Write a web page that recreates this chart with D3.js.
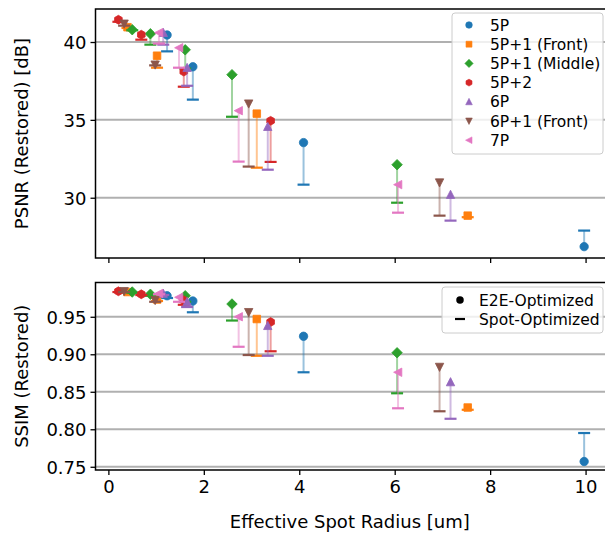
<!DOCTYPE html>
<html>
<head>
<meta charset="utf-8">
<script src="https://cdn.jsdelivr.net/npm/d3@7/dist/d3.min.js"></script>
<style>
  html, body { margin: 0; padding: 0; background: #fff; }
  svg { display: block; }
</style>
</head>
<body>
<div id="chart"></div>
<script>
(function () {
  "use strict";

  // ── data ──────────────────────────────────────────────────
  var SERIES = ["5P", "5P+1 (Front)", "5P+1 (Middle)", "5P+2", "6P", "6P+1 (Front)", "7P"];
  var RADIUS = [
    [1.23, 1.77, 4.09, 9.97],
    [0.40, 1.02, 3.11, 7.53],
    [0.50, 0.88, 1.61, 2.59, 6.05],
    [0.21, 0.69, 1.58, 3.40],
    [1.15, 1.65, 3.34, 7.17],
    [0.33, 0.98, 2.94, 6.94],
    [1.06, 1.48, 2.73, 6.07]
  ];
  var PSNR_E2E = [
    [40.45, 38.41, 33.54, 26.86],
    [40.95, 39.12, 35.40, 28.85],
    [40.79, 40.53, 39.50, 37.90, 32.12],
    [41.43, 40.47, 38.10, 34.94],
    [40.60, 38.35, 34.56, 30.20],
    [41.17, 38.54, 36.04, 30.97],
    [40.60, 39.63, 35.59, 30.84]
  ];
  var PSNR_SPOT = [
    [39.40, 36.30, 30.84, 27.89],
    [40.90, 38.35, 31.93, 28.75],
    [40.75, 39.83, 38.30, 35.20, 29.68],
    [41.30, 40.15, 37.13, 32.30],
    [39.83, 37.19, 31.80, 28.53],
    [41.05, 38.50, 32.00, 28.85],
    [39.90, 38.35, 32.32, 29.04]
  ];
  var SSIM_E2E = [
    [0.978, 0.971, 0.924, 0.757],
    [0.983, 0.973, 0.947, 0.829],
    [0.983, 0.980, 0.978, 0.967, 0.902],
    [0.984, 0.980, 0.972, 0.943],
    [0.981, 0.970, 0.938, 0.863],
    [0.984, 0.972, 0.956, 0.883],
    [0.981, 0.976, 0.950, 0.876]
  ];
  var SSIM_SPOT = [
    [0.975, 0.956, 0.876, 0.795],
    [0.982, 0.971, 0.898, 0.826],
    [0.982, 0.978, 0.970, 0.945, 0.848],
    [0.983, 0.979, 0.966, 0.904],
    [0.979, 0.963, 0.898, 0.814],
    [0.983, 0.970, 0.899, 0.824],
    [0.980, 0.970, 0.910, 0.828]
  ];
  var X_TICKS = [0, 2, 4, 6, 8, 10];
  var PSNR_TICKS = [30, 35, 40];
  var SSIM_TICKS = [0.75, 0.80, 0.85, 0.90, 0.95];

  // ── styles ────────────────────────────────────────────────
  var COLORS = ["#1f77b4", "#ff7f0e", "#2ca02c", "#d62728", "#9467bd", "#8c564b", "#e377c2"];
  var MARKERS = ["circle", "square", "diamond", "hexagon", "triUp", "triDown", "triLeft"];
  var FONT = "'DejaVu Sans', sans-serif";

  var W = 605, H = 536;
  var LEFT = 95.5, RIGHT = 608;

  // matplotlib-like marker outlines, centred on 0,0
  function markerPath(kind, s) {
    var r = s / 2, pts;
    if (kind === "circle") {
      return "M" + r + ",0A" + r + "," + r + " 0 1,1 " + (-r) + ",0A" + r + "," + r + " 0 1,1 " + r + ",0Z";
    }
    if (kind === "square") pts = [[-r * 0.9, -r * 0.9], [r * 0.9, -r * 0.9], [r * 0.9, r * 0.9], [-r * 0.9, r * 0.9]];
    if (kind === "diamond") pts = [[0, -r * 1.25], [r * 1.25, 0], [0, r * 1.25], [-r * 1.25, 0]];
    if (kind === "triUp") pts = [[0, -r * 1.05], [r, r * 0.9], [-r, r * 0.9]];
    if (kind === "triDown") pts = [[0, r * 1.05], [r, -r * 0.9], [-r, -r * 0.9]];
    if (kind === "triLeft") pts = [[-r * 1.05, 0], [r * 0.9, -r], [r * 0.9, r]];
    if (kind === "hexagon") {
      pts = d3.range(6).map(function (k) {
        var a = Math.PI / 2 + k * Math.PI / 3;
        return [r * 1.05 * Math.cos(a), -r * 1.05 * Math.sin(a)];
      });
    }
    return "M" + pts.map(function (p) { return p.join(","); }).join("L") + "Z";
  }

  var svg = d3.select("#chart").append("svg")
    .attr("width", W).attr("height", H)
    .style("font-family", FONT);

  var x = d3.scaleLinear().domain([-0.27, 10.47]).range([LEFT, RIGHT]);

  function panel(opts) {
    var y = d3.scaleLinear().domain(opts.domain).range([opts.bottom, opts.top]);
    var g = svg.append("g");

    // horizontal grid
    g.selectAll("line.grid").data(opts.ticks).enter().append("line")
      .attr("class", "grid")
      .attr("x1", LEFT).attr("x2", RIGHT)
      .attr("y1", function (d) { return y(d); }).attr("y2", function (d) { return y(d); })
      .attr("stroke", "#b0b0b0").attr("stroke-width", 2);

    // series
    SERIES.forEach(function (name, si) {
      var col = COLORS[si];
      var sg = g.append("g");
      RADIUS[si].forEach(function (rx, k) {
        var e = opts.e2e[si][k], s = opts.spot[si][k];
        sg.append("line")
          .attr("x1", x(rx)).attr("x2", x(rx))
          .attr("y1", y(e)).attr("y2", y(s))
          .attr("stroke", col).attr("stroke-opacity", 0.45).attr("stroke-width", 2);
        sg.append("line")
          .attr("x1", x(rx) - 6).attr("x2", x(rx) + 6)
          .attr("y1", y(s)).attr("y2", y(s))
          .attr("stroke", col).attr("stroke-width", 2.2);
        sg.append("path")
          .attr("d", markerPath(MARKERS[si], 8.4))
          .attr("transform", "translate(" + x(rx) + "," + y(e) + ")")
          .attr("fill", col).attr("stroke", col).attr("stroke-width", 0.8);
      });
    });

    // y axis
    var yAxis = g.append("g").attr("transform", "translate(" + LEFT + ",0)")
      .call(d3.axisLeft(y).tickValues(opts.ticks).tickFormat(opts.fmt).tickSize(5).tickPadding(4));
    yAxis.select(".domain").remove();
    yAxis.selectAll("line").attr("stroke", "#000").attr("stroke-width", 1.3);
    yAxis.selectAll("text").attr("font-size", "18px").attr("font-family", FONT).attr("fill", "#000")
      .attr("dy", "0.36em");

    // x axis ticks
    var xAxis = g.append("g").attr("transform", "translate(0," + opts.bottom + ")")
      .call(d3.axisBottom(x).tickValues(X_TICKS).tickSize(5).tickPadding(5)
        .tickFormat(opts.xLabels ? d3.format("d") : ""));
    xAxis.select(".domain").remove();
    xAxis.selectAll("line").attr("stroke", "#000").attr("stroke-width", 1.3);
    xAxis.selectAll("text").attr("font-size", "18px").attr("font-family", FONT).attr("fill", "#000");

    // frame
    g.append("rect")
      .attr("x", LEFT).attr("y", opts.top)
      .attr("width", RIGHT - LEFT).attr("height", opts.bottom - opts.top)
      .attr("fill", "none").attr("stroke", "#000").attr("stroke-width", 1.5);

    // y label
    g.append("text")
      .attr("transform", "translate(" + opts.labelX + "," + ((opts.top + opts.bottom) / 2) + ") rotate(-90)")
      .attr("text-anchor", "middle").attr("font-size", "18px").attr("fill", "#000")
      .text(opts.label);

    return g;
  }

  panel({
    top: 9, bottom: 258, domain: [26.13, 42.12], ticks: PSNR_TICKS,
    fmt: d3.format("d"), e2e: PSNR_E2E, spot: PSNR_SPOT,
    label: "PSNR (Restored) [dB]", labelX: 28, xLabels: false
  });
  panel({
    top: 282.5, bottom: 470, domain: [0.7457, 0.9957], ticks: SSIM_TICKS,
    fmt: d3.format(".2f"), e2e: SSIM_E2E, spot: SSIM_SPOT,
    label: "SSIM (Restored)", labelX: 28, xLabels: true
  });

  // x label
  svg.append("text").attr("x", (LEFT + 598) / 2 + 3).attr("y", 528)
    .attr("text-anchor", "middle").attr("font-size", "18px").attr("fill", "#000")
    .text("Effective Spot Radius [um]");

  // legend 1: series
  var leg = svg.append("g").attr("transform", "translate(452,13)");
  leg.append("rect").attr("width", 151).attr("height", 141).attr("rx", 3)
    .attr("fill", "#fff").attr("fill-opacity", 0.8).attr("stroke", "#cccccc").attr("stroke-width", 1);
  SERIES.forEach(function (name, si) {
    var ly = 12 + si * 19.2;
    leg.append("path").attr("d", markerPath(MARKERS[si], 6.6))
      .attr("transform", "translate(17," + ly + ")")
      .attr("fill", COLORS[si]).attr("stroke", COLORS[si]).attr("stroke-width", 0.6);
    leg.append("text").attr("x", 38).attr("y", ly).attr("dy", "0.36em")
      .attr("font-size", "15.5px").attr("fill", "#000").text(name);
  });

  // legend 2: optimisation type
  var leg2 = svg.append("g").attr("transform", "translate(442,287)");
  leg2.append("rect").attr("width", 161).attr("height", 46).attr("rx", 3)
    .attr("fill", "#fff").attr("fill-opacity", 0.8).attr("stroke", "#cccccc").attr("stroke-width", 1);
  leg2.append("path").attr("d", markerPath("circle", 7.5))
    .attr("transform", "translate(18,13)").attr("fill", "#000");
  leg2.append("line").attr("x1", 13).attr("x2", 23).attr("y1", 32).attr("y2", 32)
    .attr("stroke", "#000").attr("stroke-width", 2.2);
  leg2.append("text").attr("x", 37).attr("y", 13).attr("dy", "0.36em")
    .attr("font-size", "15.5px").attr("fill", "#000").text("E2E-Optimized");
  leg2.append("text").attr("x", 37).attr("y", 32).attr("dy", "0.36em")
    .attr("font-size", "15.5px").attr("fill", "#000").text("Spot-Optimized");
})();
</script>
</body>
</html>
